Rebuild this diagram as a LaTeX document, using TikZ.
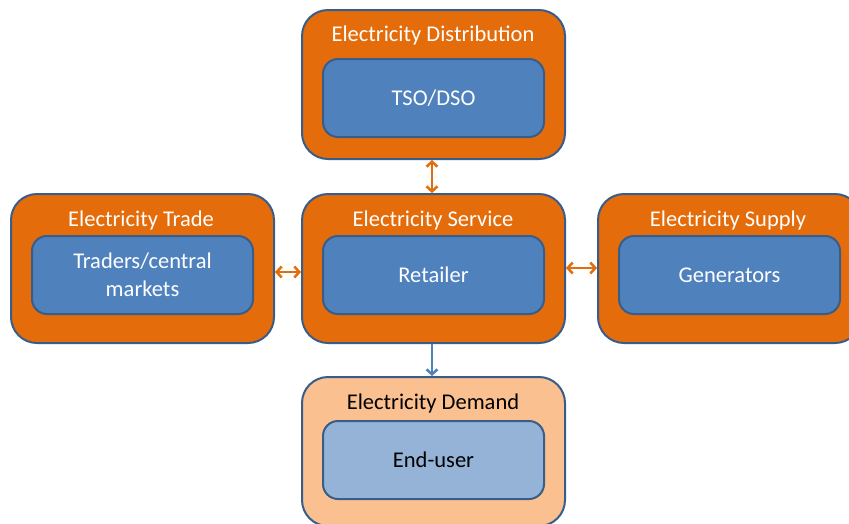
\documentclass[tikz,border=0pt]{standalone}
\usepackage{fontspec}
\setmainfont{Carlito}
\usetikzlibrary{arrows.meta}
\definecolor{orgfill}{HTML}{E46C0A}
\definecolor{bluefill}{HTML}{4F81BD}
\definecolor{blueedge}{HTML}{385D8A}
\definecolor{peach}{HTML}{FAC090}
\definecolor{lightblue}{HTML}{95B3D7}
\tikzset{
  outerbox/.style={draw=blueedge, line width=2pt, fill=orgfill, rounded corners=26pt, minimum width=263pt, minimum height=149pt, anchor=north west, inner sep=0pt},
  innerbox/.style={draw=blueedge, line width=2pt, fill=bluefill, rounded corners=15pt, minimum width=221pt, minimum height=78pt, anchor=north west, inner sep=0pt, text=white, font=\fontsize{22.5}{28}\selectfont, align=center},
  title/.style={text=white, font=\fontsize{22.5}{26}\selectfont, anchor=base, inner sep=0pt},
  orarrow/.style={draw=orgfill, line width=2.5pt, {Straight Barb[length=5pt,width=11pt]}-{Straight Barb[length=5pt,width=11pt]}},
  bluearrow/.style={draw=bluefill, line width=2.5pt, -{Straight Barb[length=5pt,width=11pt]}},
}
\begin{document}
\begin{tikzpicture}[x=1pt,y=-1pt]
\useasboundingbox (0,0) rectangle (849,523);
% Distribution
\node[outerbox] (dist) at (301,9) {};
\node[title] (distt) at (433,41) {Electricity Distribution};
\node[innerbox] (tso) at (322,58) {TSO/DSO};
% Trade
\node[outerbox] (trade) at (10,193) {};
\node[title] (tradet) at (141,226) {Electricity Trade};
\node[innerbox] (traders) at (31,235) {Traders/central\\markets};
% Service
\node[outerbox] (serv) at (301,193) {};
\node[title] (servt) at (433,226) {Electricity Service};
\node[innerbox] (ret) at (322,235) {Retailer};
% Supply
\node[outerbox] (sup) at (597,193) {};
\node[title] (supt) at (728,226) {Electricity Supply};
\node[innerbox] (gen) at (618,235) {Generators};
% Demand
\node[outerbox, fill=peach] (dem) at (301,376) {};
\node[title, text=black] (demt) at (433,409) {Electricity Demand};
\node[innerbox, fill=lightblue, text=black] (end) at (322,420) {End-user};
% arrows
\draw[orarrow] (dist.south -| 432,0) -- (serv.north -| 432,0);
\draw[orarrow] (trade.east |- 0,272) -- (serv.west |- 0,272);
\draw[orarrow] (serv.east |- 0,268) -- (sup.west |- 0,268);
\draw[bluearrow] (serv.south -| 432,0) -- (dem.north -| 432,0);
\end{tikzpicture}
\end{document}
